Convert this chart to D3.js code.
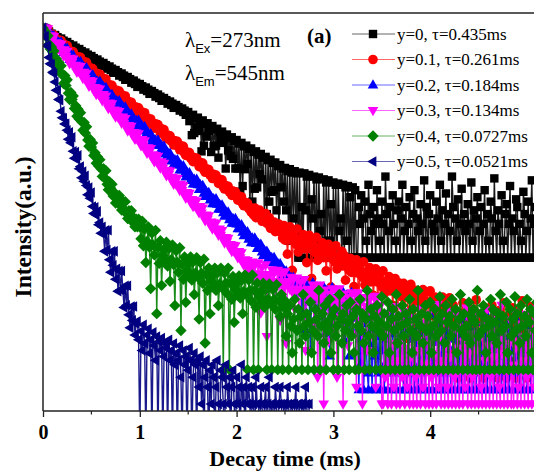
<!DOCTYPE html>
<html><head><meta charset="utf-8">
<script src="https://cdn.jsdelivr.net/npm/d3@7/dist/d3.min.js"></script>
<style>body{margin:0;background:#fff}</style>
</head><body>
<svg id="chart" width="534" height="471"></svg>
<script>
// ---- data ----
const timeStepMs = 0.0125;           // channel width of the decay curves
const xTickValues = [0, 1, 2, 3, 4];
const xMinorTicks = [0.5, 1.5, 2.5, 3.5, 4.5];
const seriesLabels = ["y=0, \u03c4=0.435ms", "y=0.1, \u03c4=0.261ms", "y=0.2, \u03c4=0.184ms",
                      "y=0.3, \u03c4=0.134ms", "y=0.4, \u03c4=0.0727ms", "y=0.5, \u03c4=0.0521ms"];
const seriesColors = ["#000000", "#ff0000", "#0000ff", "#ff00ff", "#008000", "#000080"];
const excitationLabel = ["\u03bb", "Ex", "=273nm"];
const emissionLabel = ["\u03bb", "Em", "=545nm"];

// counts per channel (0 = empty channel)
const countsY00 = [
1.26e4,1.12e4,1.15e4,1.0e4,1.06e4,1.09e4,9440,1.0e4,8410,9170,
9440,8410,8660,7500,7940,8180,7080,7500,6310,6880,
7080,6310,6490,5620,5960,6130,5310,5620,4730,5160,
5310,4730,4870,4220,4470,4600,3980,4220,3550,3870,
3980,3550,3650,3160,3350,3450,2990,3160,2660,2900,
2990,2660,2740,2370,2510,2590,2240,2370,2000,2180,
2240,2000,2050,1780,1880,1940,1680,1780,1500,1630,
1680,1500,1540,1330,1410,1450,1260,1330,1120,1220,
1260,1120,1150,1000,1060,1090,944,1000,841,917,
944,841,866,750,794,818,708,750,631,688,
708,631,649,562,596,613,531,562,473,516,
531,473,487,422,447,460,398,422,355,387,
398,274,345,154,355,168,307,211,316,183,
274,79,282,100,244,145,251,183,218,77,
224,97,194,100,200,61,173,130,178,112,
154,39,158,82,137,65,141,58,122,39,
126,39,109,15,112,19,97,38,100,47,
87,8,89,10,77,17,79,18,69,31,
71,25,61,5,63,6,55,10,56,15,
49,16,50,7,43,3,45,18,39,10,
40,7,35,2,38,2,33,5,35,3,
32,1,33,1,8,2,32,7,28,1,
30,2,11,5,28,1,25,1,27,3,
6,1,25,1,22,2,24,2,9,1,
22,1,20,1,21,3,5,1,20,1,
18,2,19,1,12,1,18,1,16,1,
1,8,4,13,1,5,10,2,1,20,6,3,1,8,4,1,16,5,2,1,
10,4,1,28,6,1,3,8,1,13,4,2,1,7,10,1,5,20,1,3,
8,1,4,12,2,1,6,16,1,5,3,1,9,4,1,24,2,8,1,6,
13,1,4,3,1,10,5,1,20,2,7,1,4,14,1,6,3,1,28,8,
1,5,2,11,1,4,17,1,6,3,1,9,4,1,22,2,7,1,5,12,
1,3,8,1,4,16,1,6,2,1,10,5,1,26,3,1,7,4,1,13,
2,1,6,9,1,4,19,1,5,3,1,11,8,1,4,2,1,15,6,1,
3,10,1,5,24,1,4,8,1];

const countsY01 = [
1.78e6,1.50e6,1.78e6,1.50e6,1.73e6,1.29e6,1.19e6,1.37e6,1.22e6,1.33e6,
1.06e6,1.12e6,9.17e5,1.09e6,9.17e5,1.06e6,8.91e5,7.50e5,8.91e5,7.50e5,
8.66e5,6.49e5,5.96e5,6.88e5,6.13e5,6.68e5,5.31e5,5.62e5,4.60e5,5.46e5,
4.60e5,5.31e5,4.47e5,3.76e5,4.47e5,3.76e5,4.34e5,3.25e5,2.99e5,3.45e5,
3.07e5,3.35e5,2.66e5,2.82e5,2.31e5,2.74e5,2.31e5,2.66e5,2.24e5,1.88e5,
2.24e5,1.88e5,2.18e5,1.63e5,1.50e5,1.73e5,1.54e5,1.68e5,1.33e5,1.41e5,
1.15e5,1.37e5,1.15e5,1.33e5,1.12e5,9.44e4,1.12e5,9.44e4,1.09e5,8.18e4,
7.50e4,8.66e4,7.72e4,8.41e4,6.68e4,7.08e4,5.79e4,6.88e4,5.79e4,6.68e4,
5.62e4,4.73e4,5.62e4,4.73e4,5.46e4,4.10e4,3.76e4,4.34e4,3.87e4,4.22e4,
3.35e4,3.55e4,2.90e4,3.45e4,2.90e4,3.35e4,2.82e4,2.37e4,2.82e4,2.37e4,
2.74e4,2.05e4,1.88e4,2.18e4,1.94e4,2.11e4,1.68e4,1.78e4,1.45e4,1.73e4,
1.45e4,1.68e4,1.41e4,1.19e4,1.41e4,1.19e4,1.37e4,1.03e4,9440,1.09e4,
9720,1.06e4,8410,8910,7290,8660,7290,8410,7080,5960,
7080,5960,6880,5160,4730,5460,4870,5310,4220,4470,
3650,4340,3650,4220,3550,2990,3550,2990,3450,2590,
2370,2740,2440,2660,2110,2240,1830,2180,1830,2110,
1780,1500,1780,1500,1730,1290,1190,1370,1220,1330,
1060,1120,917,1030,818,1090,729,944,750,1000,
729,631,841,688,866,579,596,729,473,579,
460,613,410,531,422,562,410,434,316,531,
290,447,163,325,501,290,84,422,307,244,
460,178,299,307,224,365,205,316,115,224,
355,205,60,290,211,173,325,126,205,218,
158,259,141,224,82,158,244,141,42,205,
150,119,231,89,145,150,112,183,100,154,
56,112,115,84,137,77,119,43,84,129,
75,22,109,79,63,119,46,77,79,58,
94,52,79,30,58,89,52,15,73,53,
43,82,32,52,53,39,65,36,55,20,
39,60,36,10,50,37,40,28,49,12,
33,43,5,27,47,17,32,3,37,21,
25,6,31,21,38,9,24,34,4,21,
36,13,24,2,28,16,19,5,23,16,
28,7,19,25,3,15,27,10,
8,20,3,12,6,1,15,9,4,22,7,2,11,5,18,1,9,13,3,7,
25,4,10,2,14,6,1,9,17,5,3,11,8,20,2,6,12,4,1,16,
7,3,10,22,5,1,8,13,2,9,18,4,6,1,11,15,3,7,24,2,
10,5,1,13,8,19,3,6,12,2,9];

const countsY02 = [
2.90e6,2.37e6,2.90e6,2.37e6,2.82e6,2.05e6,1.78e6,2.18e6,1.88e6,2.11e6,
1.54e6,1.73e6,1.33e6,1.63e6,1.33e6,1.63e6,1.29e6,1.06e6,1.29e6,1.06e6,
1.26e6,9.17e5,7.94e5,9.72e5,8.41e5,9.44e5,6.88e5,7.72e5,5.96e5,7.29e5,
5.96e5,7.29e5,5.79e5,4.73e5,5.79e5,4.73e5,5.62e5,4.10e5,3.55e5,4.34e5,
3.76e5,4.22e5,3.07e5,3.45e5,2.66e5,3.25e5,2.66e5,3.25e5,2.59e5,2.11e5,
2.59e5,2.11e5,2.51e5,1.83e5,1.58e5,1.94e5,1.68e5,1.88e5,1.37e5,1.54e5,
1.19e5,1.45e5,1.19e5,1.45e5,1.15e5,9.44e4,1.15e5,9.44e4,1.12e5,8.18e4,
7.08e4,8.66e4,7.50e4,8.41e4,6.13e4,6.88e4,5.31e4,6.49e4,5.31e4,6.49e4,
5.16e4,4.22e4,5.16e4,4.22e4,5.01e4,3.65e4,3.16e4,3.87e4,3.35e4,3.76e4,
2.74e4,3.07e4,2.37e4,2.90e4,2.37e4,2.90e4,2.31e4,1.88e4,2.31e4,1.88e4,
2.24e4,1.63e4,1.41e4,1.73e4,1.50e4,1.68e4,1.22e4,1.37e4,1.06e4,1.29e4,
1.06e4,1.29e4,1.03e4,8410,1.03e4,8410,1.0e4,7290,6310,7720,
6680,7500,5460,6130,4730,5790,4730,5790,4600,3760,
4600,3760,4470,3250,2820,3450,2990,3350,2440,2740,
2110,2590,2110,2590,2050,1680,2050,1680,2000,1450,
1260,1540,1330,1500,1090,1220,944,1150,944,1150,
917,750,917,750,891,649,562,688,596,668,
487,546,422,516,422,516,410,335,410,335,
398,290,251,307,266,299,218,244,188,231,
188,231,183,150,183,150,178,129,112,137,
119,133,97,109,84,103,84,103,82,67,82,
73,53,84,25,61,84,12,46,73,
37,5,60,82,17,47,29,60,43,69,
20,50,69,10,38,60,30,4,49,67,
14,39,24,47,35,56,17,41,56,8,
31,49,24,4,40,55,11,32,19,39,29,
1,8,3,15,1,5,10,2,1,20,6,1,12,4,1,9,2,18,1,5,
11,1,3,8,1,25,4,1,10,2,6,1,15,3,1,9,5,1,12,2,
1,20,4,1,8,3,1,11,6,1,16,2,1,9,4,1,12,5,1,22,
3,1,10,2,1,7,15,1,4,9,1,2,18,1,6,11,1,3,8,1,
14,5,1,2,10,1,20,4,1,8,3,1,12,6,1,2,16,1,9,4,
1,11,3,1,25,5,1,8,2,1,13,6,1,10,4,1,18,2,1,7,
9,1,3,15,1,5,12,1,2,20,1,6,10,1,4,8,1,3,14,1,
2,11,1,5,9,1,17,3];

const countsY03 = [
5.16e6,4.10e6,5.16e6,4.10e6,5.01e6,3.45e6,2.99e6,3.76e6,3.16e6,3.65e6,
2.51e6,2.82e6,2.11e6,2.74e6,2.11e6,2.66e6,2.05e6,1.63e6,2.11e6,1.63e6,
2.00e6,1.37e6,1.19e6,1.50e6,1.26e6,1.45e6,1.0e6,1.12e6,8.41e5,1.09e6,
8.41e5,1.06e6,8.18e5,6.49e5,8.41e5,6.49e5,7.94e5,5.46e5,4.73e5,5.96e5,
5.01e5,5.79e5,3.98e5,4.47e5,3.35e5,4.34e5,3.35e5,4.22e5,3.25e5,2.59e5,
3.35e5,2.59e5,3.16e5,2.18e5,1.88e5,2.37e5,2.00e5,2.31e5,1.58e5,1.78e5,
1.33e5,1.73e5,1.33e5,1.68e5,1.29e5,1.03e5,1.33e5,1.03e5,1.26e5,8.66e4,
7.50e4,9.44e4,7.94e4,9.17e4,6.31e4,7.08e4,5.31e4,6.88e4,5.31e4,6.68e4,
5.16e4,4.10e4,5.31e4,4.10e4,5.01e4,3.45e4,2.99e4,3.76e4,3.16e4,3.65e4,
2.51e4,2.82e4,2.11e4,2.74e4,2.11e4,2.66e4,2.05e4,1.63e4,2.11e4,1.63e4,
2.00e4,1.37e4,1.19e4,1.50e4,1.26e4,1.45e4,1.0e4,1.12e4,8410,1.09e4,
8410,1.06e4,8180,6490,8410,6490,7940,5460,4730,5960,
5010,5790,3980,4470,3350,4340,3350,4220,3250,2590,
3350,2590,3160,2180,1880,2370,2000,2310,1580,1780,
1330,1730,1330,1680,1290,1030,1330,1030,1260,866,
750,944,794,917,631,708,531,688,531,668,
516,410,531,410,501,345,299,376,316,365,251,
282,211,345,188,298,94,211,335,193,
42,274,205,163,307,16,199,205,154,251,
137,217,69,154,244,141,31,205,149,118,
230,12,145,154,112,183,100,168,50,112,
178,102,22,149,109,87,168,9,105,112,
82,109,75,133,25,89,122,3,75,133,
42,92,1,109,61,75,13,92,65,115,
21,77,105,3,65,115,35,80,1,92,
53,65,11,80,56,97,18,67,89,2,
56,97,31,69,1,80,46,55,9,69,
47,84,16,56,77,2,47,84,27,58,1,
1,20,3,40,1,8,25,1,12,2,55,1,6,30,1,15,3,45,1,10,
2,22,1,7,35,1,18,3,1,50,9,1,14,2,28,1,5,40,1,12,
3,1,25,8,1,60,2,16,1,6,33,1,11,2,1,45,7,1,20,3,
1,38,10,1,4,24,1,13,2,52,1,8,18,1,3,30,1,9,42,1,
15,2,1,26,6,1,48,11,1,3,20,1,7,36,1,14,2,1,58,8,
1,22,4,1,12,32,1,5,1,44,10,1,2,27,1,16,6,1,40,3,
1,19,9,1,50,2,1,13];

const countsY04 = [
1.26e6,1.0e6,1.09e6,8.66e5,9.17e5,6.49e5,5.31e5,5.79e5,4.73e5,4.87e5,
3.16e5,3.55e5,2.31e5,3.07e5,2.11e5,2.66e5,1.83e5,1.29e5,1.78e5,1.19e5,
1.50e5,8.66e4,6.68e4,8.91e4,6.68e4,7.72e4,4.60e4,5.16e4,3.35e4,4.47e4,
2.99e4,3.87e4,2.66e4,1.88e4,2.59e4,1.68e4,2.18e4,1.26e4,9720,1.29e4,
9440,1.12e4,6680,7500,4870,6310,4340,5620,3870,2820,
3870,2660,3550,2050,1630,2240,1730,2050,1260,1450,
944,1290,944,1290,944,708,1030,729,1000,613,
501,688,546,688,434,516,355,487,355,487,
355,218,447,163,325,82,194,355,154,28,
274,168,112,307,10,154,79,200,32,109,
141,89,188,71,145,38,92,168,75,14,
133,82,55,150,5,77,41,103,16,58,
77,49,103,40,84,22,53,100,45,8,
82,52,35,94,3,50,26,65,10,38,
49,31,65,26,53,14,34,65,29,1,
53,35,23,65,1,35,18,46,7,27,
35,22,47,19,39,10,25,49,22,1,
40,26,17,49,1,26,13,35,1,20,
25,16,35,13,27,1,18,34,15,1,
27,18,12,33,1,17,9,22,1,13,17,
4,10,1,14,6,2,8,18,1,5,12,3,9,1,22,6,4,10,1,7,
16,2,5,1,12,8,4,26,1,6,10,3,14,1,7,5,18,2,9,1,
12,4,6,1,22,8,3,10,1,5,14,7,1,16,4,9,2,1,12,6,
1,18,5,10,3,1,8,26,4,1,12,6,2,9,1,14,5,7,1,20,
4,10,1,6,16,2,1,8,12,5,1,22,3,9,1,6,14,4,1,10,
7,1,18,5,2,12,1,8,4,26,1,6,10,3,1,14,5,9,1,16,
2,6,1,12,4,8,1,20,5,10,1,3,14,7,1,9,4,18,1,6,
12,2,1,8,22,5,1,10,4,6,1,16,3,9,1,12,7,1,26,4,
1,10,5,14,1,2,8,6,1,18,4,12,1,7,3,10,1,22,5,9,
1,6,16,2,1,12,4,8,1,20,5,10,1,3,14,6,1,9,4,18,
1,7,12,2,1,10,5,16];

const countsY05 = [
5.16e6,3.65e6,3.65e6,2.51e6,2.44e6,1.54e6,1.19e6,1.15e6,8.41e5,7.94e5,
5.62e5,3.98e5,3.98e5,2.74e5,2.66e5,1.68e5,1.29e5,1.26e5,1.0e5,1.0e5,
7.72e4,5.31e4,7.08e4,4.60e4,5.79e4,3.25e4,2.44e4,3.16e4,2.37e4,2.74e4,
1.58e4,1.73e4,1.09e4,1.41e4,9440,1.19e4,7940,5460,7290,4730,
5960,3350,2510,3250,2370,2740,1580,1730,1120,1450,
1090,531,1260,562,1260,376,224,531,299,531,
168,259,103,237,109,237,109,53,129,58,
129,39,23,55,31,55,17,27,
30,14,0,20,9,26,12,0,17,22,8,14,0,19,11,6,16,0,13,9,15,0,7,12,10,0,14,6,
9,0,12,5,8,0,6,11,3,0,9,5,7,0,4,10,6,0,3,8,5,0,6,2,7,
1,5,0,3,6,2,0,4,1,5,3,0,2,6,1,0,4,3,1,0,5,2,1,3,0,2,4,1,0,3,1,2,0,5,1,2,0,3,1,2,1,
0,2,1,0,3,1,1,0,2,1,0,1,2,0,1,3,0,1,1,0,2,1,0,1,2,1,0,1,1,0,2,1,0,1,1,0,1,2,0,1,1,0,1,1,0,2,1,0,1];

const seriesCounts = [countsY00, countsY01, countsY02, countsY03, countsY04, countsY05];

// ---- drawing ----
(function () {
const svg = d3.select("#chart");
const W = 534;
const mL = 43, mT = 13, mB = 411;
const pxPerMs = 96.8;
const x = d3.scaleLinear().domain([0, 5.2]).range([mL, mL + pxPerMs * 5.2]);
const y = d3.scaleLog().domain([1.45e-7, 1.853]).range([mB, mT]);
const serif = "'Liberation Serif', 'Times New Roman', serif";

svg.append("defs").append("clipPath").attr("id", "plotClip")
  .append("rect").attr("x", mL).attr("y", mT).attr("width", 520).attr("height", mB - mT);

const symbolPaths = [
  "M-4.2,-4.2h8.4v8.4h-8.4z",
  "M4.8,0A4.8,4.8 0 1,1 -4.8,0A4.8,4.8 0 1,1 4.8,0Z",
  "M0,-5.8L5.3,3.4L-5.3,3.4Z",
  "M0,5.8L5.3,-3.4L-5.3,-3.4Z",
  "M0,-5.7L5.7,0L0,5.7L-5.7,0Z",
  "M-5.8,0L3.4,-5.3L3.4,5.3Z"
];

const plot = svg.append("g").attr("clip-path", "url(#plotClip)");

seriesCounts.forEach((counts, si) => {
  const n0 = counts[0];
  const pts = counts.map((c, i) => ({ t: i * timeStepMs, c: c, I: c / n0 }));
  const g = plot.append("g");
  const line = d3.line()
    .x(d => x(d.t))
    .y(d => d.c > 0 ? y(d.I) : mB + 30);
  g.append("path").datum(pts)
    .attr("d", line)
    .attr("fill", "none")
    .attr("stroke", seriesColors[si])
    .attr("stroke-width", 1.4)
    .attr("stroke-opacity", 0.9);
  g.selectAll("path.m").data(pts.filter(d => d.c > 0)).join("path")
    .attr("class", "m")
    .attr("d", symbolPaths[si])
    .attr("transform", d => `translate(${x(d.t)},${y(d.I)})`)
    .attr("fill", seriesColors[si]);
});

// frame
svg.append("line").attr("x1", mL).attr("x2", W + 5).attr("y1", mT).attr("y2", mT)
  .attr("stroke", "#222").attr("stroke-width", 1.5);
svg.append("line").attr("x1", mL).attr("x2", mL).attr("y1", mT).attr("y2", mB)
  .attr("stroke", "#222").attr("stroke-width", 1.5);

// x axis
const xAxis = svg.append("g").attr("transform", `translate(0,${mB})`)
  .call(d3.axisBottom(x).tickValues(xTickValues).tickSize(6).tickPadding(8).tickFormat(d3.format("d")));
xAxis.select(".domain").attr("d", `M${mL},0H${W + 5}`).attr("stroke", "#222").attr("stroke-width", 1.5);
xAxis.selectAll(".tick line").attr("stroke", "#222").attr("stroke-width", 1.3);
xAxis.selectAll(".tick text")
  .attr("font-family", serif).attr("font-weight", "bold").attr("font-size", 20).attr("fill", "#000");
svg.append("g").selectAll("line").data(xMinorTicks).join("line")
  .attr("x1", d => x(d)).attr("x2", d => x(d))
  .attr("y1", mB).attr("y2", mB + 3.5)
  .attr("stroke", "#222").attr("stroke-width", 1.2);

// axis titles
svg.append("text").attr("x", 285).attr("y", 466).attr("text-anchor", "middle")
  .attr("font-family", serif).attr("font-weight", "bold").attr("font-size", 22).text("Decay time (ms)");
svg.append("text").attr("transform", "translate(31,227) rotate(-90)").attr("text-anchor", "middle")
  .attr("font-family", serif).attr("font-weight", "bold").attr("font-size", 23.5).text("Intensity(a.u.)");

// wavelength annotations
function lambdaLabel(parts, px, py) {
  const t = svg.append("text").attr("x", px).attr("y", py)
    .attr("font-family", serif).attr("font-size", 21);
  t.append("tspan").text(parts[0]);
  t.append("tspan").attr("dy", 6).attr("font-family", "'Liberation Sans', Arial, sans-serif")
    .attr("font-size", 13).text(parts[1]);
  t.append("tspan").attr("dy", -6).text(parts[2]);
}
lambdaLabel(excitationLabel, 185, 47);
lambdaLabel(emissionLabel, 185, 80);

// legend
svg.append("text").attr("x", 307).attr("y", 43)
  .attr("font-family", serif).attr("font-weight", "bold").attr("font-size", 21).text("(a)");
const leg = svg.append("g");
seriesLabels.forEach((lab, i) => {
  const cy = 34 + i * 25.5;
  leg.append("line").attr("x1", 352).attr("x2", 395).attr("y1", cy).attr("y2", cy)
    .attr("stroke", seriesColors[i]).attr("stroke-width", 1).attr("stroke-opacity", 0.6);
  leg.append("path").attr("d", symbolPaths[i]).attr("transform", `translate(373,${cy})`)
    .attr("fill", seriesColors[i]);
  leg.append("text").attr("x", 397).attr("y", cy + 5.5)
    .attr("font-family", serif).attr("font-size", 17).text(lab);
});
})();
</script>
</body></html>
